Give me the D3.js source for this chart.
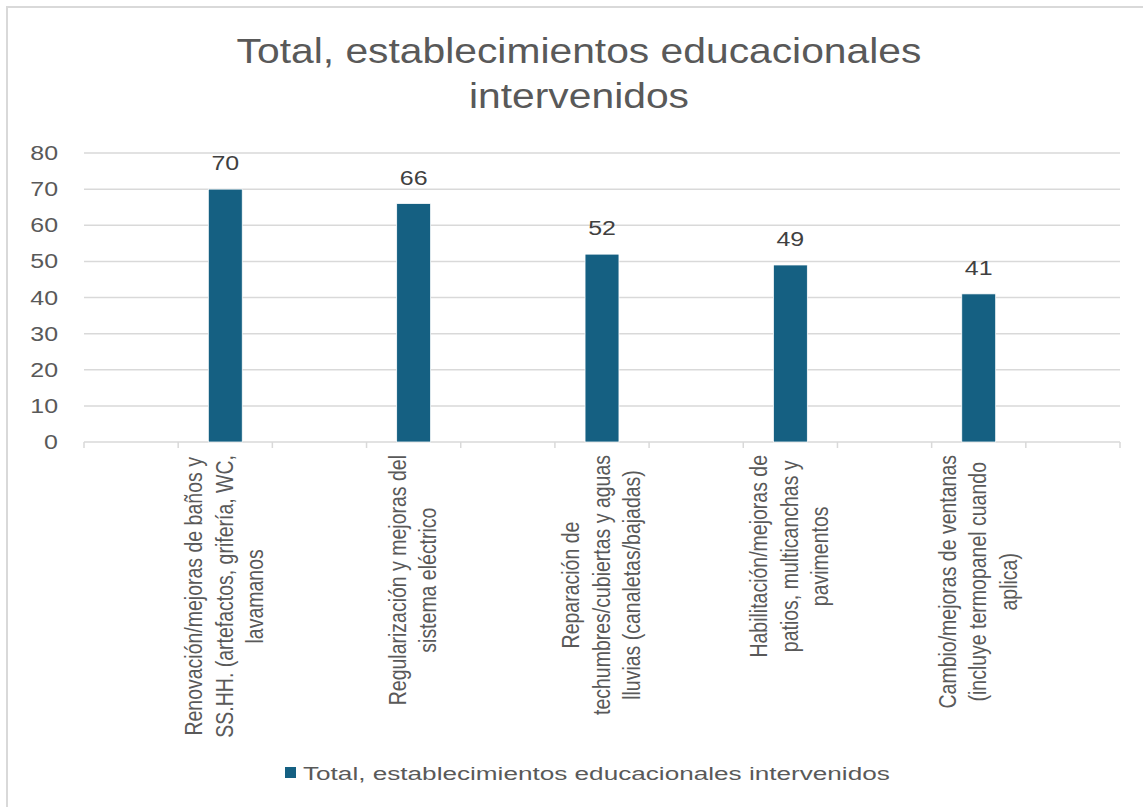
<!DOCTYPE html>
<html>
<head>
<meta charset="utf-8">
<script src="https://d3js.org/d3.v7.min.js"></script>
<style>
  body { margin: 0px; background: #ffffff; }
  text { font-family: "Liberation Sans", Arial, sans-serif; fill: #595959; }
  .title { font-size: 35px; }
  .tick-y { font-size: 19.5px; }
  .cat { font-size: 19.5px; }
  .value { font-size: 19.5px; fill: #404040; }
  .legend { font-size: 17.5px; }
</style>
</head>
<body>
<svg id="chart" width="1143" height="807"></svg>
<script>
// data
var titleLines = ["Total, establecimientos educacionales", "intervenidos"];
var seriesName = "Total, establecimientos educacionales intervenidos";
var categories = [
  "Renovación/mejoras de baños y|SS.HH. (artefactos, grifería, WC,|lavamanos",
  "Regularización y mejoras del|sistema eléctrico",
  "Reparación de|techumbres/cubiertas y aguas|lluvias (canaletas/bajadas)",
  "Habilitación/mejoras de|patios, multicanchas y|pavimentos",
  "Cambio/mejoras de ventanas|(incluye termopanel cuando|aplica)"
];
var values = [70, 66, 52, 49, 41];
var yTicks = [0, 10, 20, 30, 40, 50, 60, 70, 80];

var svg = d3.select("#chart");
var barColor = "#156082", gridColor = "#d9d9d9";
var sx = 1.28; // the source picture is stretched sideways

// chart frame
svg.append("rect")
   .attr("x", 7).attr("y", 7).attr("width", 1160).attr("height", 830)
   .attr("fill", "#fff").attr("stroke", gridColor).attr("stroke-width", 2);

// title, widened to the same width as the source
var tg = svg.append("g");
var tt = tg.append("text").attr("class", "title").attr("text-anchor", "middle");
tt.selectAll("tspan").data(titleLines).enter().append("tspan")
   .attr("x", 0).attr("y", function(d, i) { return 63 + i * 45; })
   .text(function(d) { return d; });
var tw = tt.select("tspan").node().getComputedTextLength();
tg.attr("transform", "translate(579,0) scale(" + (685 / tw) + ",1)");

// Excel put an empty slot around each category: 11 bands in total
var slots = [];
categories.forEach(function(c, i) { slots.push("gap" + i); slots.push(c); });
slots.push("gapEnd");

var x = d3.scaleBand().domain(slots).range([84, 1120]);
var y = d3.scaleLinear().domain([0, 80]).range([442, 153]);

// gridlines
svg.append("g").selectAll("line").data(yTicks.slice(1)).enter().append("line")
   .attr("x1", 84).attr("x2", 1120)
   .attr("y1", function(d) { return y(d); }).attr("y2", function(d) { return y(d); })
   .attr("stroke", gridColor).attr("stroke-width", 1.5);

// y axis labels
svg.append("g").selectAll("text").data(yTicks).enter().append("text")
   .attr("class", "tick-y").attr("text-anchor", "end")
   .attr("transform", function(d) { return "translate(58," + (y(d) + 7) + ") scale(" + sx + ",1)"; })
   .text(function(d) { return d; });

// x axis line + tick marks at band edges
svg.append("line").attr("x1", 84).attr("x2", 1120).attr("y1", y(0)).attr("y2", y(0))
   .attr("stroke", gridColor).attr("stroke-width", 1.5);
var edges = x.domain().map(function(d) { return x(d); }).concat([1120]);
svg.append("g").selectAll("line").data(edges).enter().append("line")
   .attr("x1", function(d) { return d; }).attr("x2", function(d) { return d; })
   .attr("y1", y(0)).attr("y2", y(0) + 6)
   .attr("stroke", gridColor).attr("stroke-width", 1.5);

// bars
var bw = x.bandwidth() * 0.36;
svg.append("g").selectAll("rect").data(values).enter().append("rect")
   .attr("x", function(d, i) { return x(categories[i]) + x.bandwidth() / 2 - bw / 2; })
   .attr("y", function(d) { return y(d); })
   .attr("width", bw)
   .attr("height", function(d) { return y(0) - y(d); })
   .attr("fill", barColor).attr("stroke", "#ffffff").attr("stroke-width", 0.75);

// value labels
svg.append("g").selectAll("text").data(values).enter().append("text")
   .attr("class", "value").attr("text-anchor", "middle")
   .attr("transform", function(d, i) {
     return "translate(" + (x(categories[i]) + x.bandwidth() / 2) + "," + (y(d) - 19) + ") scale(" + sx + ",1)";
   })
   .text(function(d) { return d; });

// category labels, rotated, lines centred on the longest line
categories.forEach(function(c, i) {
  var lines = c.split("|");
  var cx = x(c) + x.bandwidth() / 2;
  var g = svg.append("g")
     .attr("transform", "translate(" + cx + "," + (y(0) + 13) + ") rotate(-90) scale(1,1.25)");
  var t = g.append("text").attr("class", "cat").attr("text-anchor", "middle");
  var spans = t.selectAll("tspan").data(lines).enter().append("tspan")
     .attr("y", function(d, j) { return (j - (lines.length - 1) / 2) * 24.5 + 6; })
     .text(function(d) { return d; });
  var maxLen = 0;
  spans.each(function() { maxLen = Math.max(maxLen, this.getComputedTextLength()); });
  spans.attr("x", -maxLen / 2);
});

// legend
var lg = svg.append("g");
lg.append("rect").attr("x", 285).attr("y", 767).attr("width", 11).attr("height", 11).attr("fill", barColor);
var lt = lg.append("text").attr("class", "legend").text(seriesName);
var lw = lt.node().getComputedTextLength();
lt.attr("transform", "translate(303,780) scale(" + (587 / lw) + ",1)");
</script>
</body>
</html>
